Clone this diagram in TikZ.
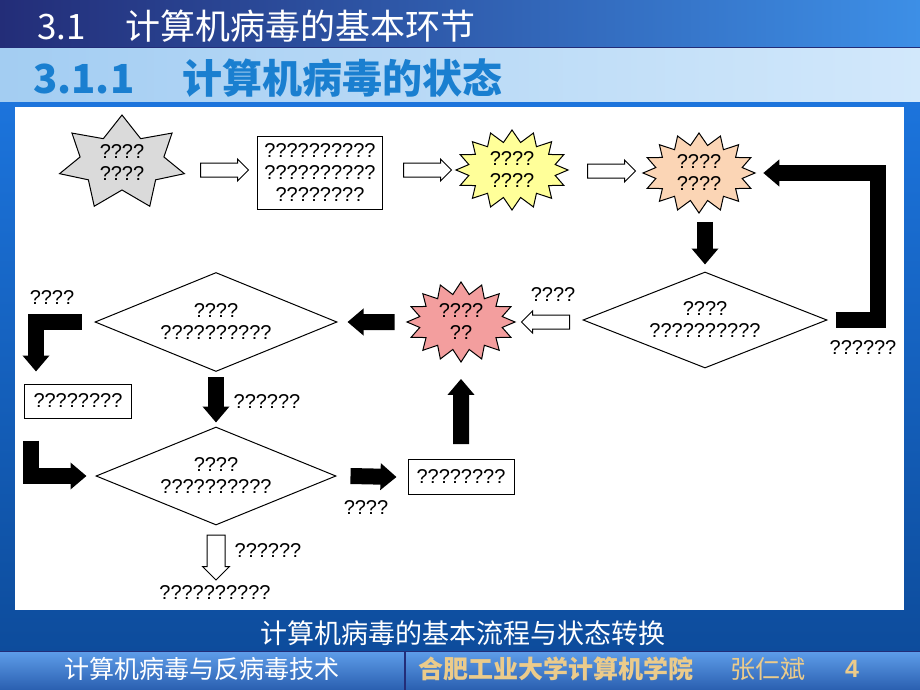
\documentclass[tikz,border=0pt]{standalone}
\usepackage{fontspec}
\setmainfont{Liberation Sans}
\newfontfamily\cjk{Noto Sans CJK SC}
\usetikzlibrary{arrows.meta, calc, positioning, shapes.geometric, shapes.symbols, shapes.arrows}

\definecolor{navy}{HTML}{232D78}
\definecolor{titleblue}{HTML}{3D8FE6}
\definecolor{bandleft}{HTML}{A3CDF2}
\definecolor{bandright}{HTML}{D2E8FB}
\definecolor{subblue}{HTML}{1A7FD0}
\definecolor{bgtop}{HTML}{1C74DC}
\definecolor{bgbot}{HTML}{0D4C9C}
\definecolor{foottop}{HTML}{5D9CE8}
\definecolor{footbot}{HTML}{2A5FB0}
\definecolor{gold}{HTML}{EBCB8B}
\definecolor{graystar}{HTML}{DADADA}
\definecolor{yellowburst}{HTML}{FFFF99}
\definecolor{peachburst}{HTML}{FBD5B5}
\definecolor{redburst}{HTML}{F39E9E}

\begin{document}
\begin{tikzpicture}[x=1pt, y=-1pt,
    every node/.style={font=\fontsize{20}{22}\selectfont, align=center, inner sep=0pt},
    star7/.style={starburst, starburst points=7, starburst point height=21pt,
        random starburst=0, draw, line width=1pt, fill=graystar,
        minimum width=128pt, minimum height=96pt},
    burst/.style={starburst, starburst points=16, starburst point height=12pt,
        random starburst=0, draw, line width=1pt, minimum width=112pt, minimum height=80pt},
    box/.style={rectangle, draw, line width=1pt},
    cond/.style={diamond, aspect=2.5, draw, line width=1pt},
    hollow/.style={single arrow, draw, line width=1pt, fill=white, minimum height=48pt,
        inner xsep=0pt, inner ysep=6.5pt, single arrow head extend=4pt},
    bigarrow/.style={line width=16pt, -{Triangle[length=16pt, width=26pt]}},
    title/.style={font=\cjk\fontsize{35}{35}\selectfont, text=white, anchor=west},
    foot/.style={font=\cjk\fontsize{25}{25}\selectfont}
]
\useasboundingbox (0,0) rectangle (920,690);

% slide background
\shade[top color=bgtop, bottom color=bgbot] (0,102) rectangle (920,652);
\shade[left color=navy, right color=titleblue] (0,0) rectangle (920,47);
\fill[navy] (0,47) rectangle (920,49);
\shade[left color=bandleft, right color=bandright] (0,49) rectangle (920,102);
\fill[white] (15,107) rectangle (904,610);
\shade[top color=foottop, bottom color=footbot] (0,652) rectangle (920,690);
\draw[navy, line width=1.5pt] (0,651.5) -- (920,651.5);
\draw[navy, line width=1.5pt] (405,652) -- (405,690);

% headings
\node[title] (head) at (37,26) {3.1\hspace{40pt}计算机病毒的基本环节};
\node[title, font=\cjk\bfseries\fontsize{40}{40}\selectfont, text=subblue] (subhead) at (33,78)
    {3.1.1\hspace{48pt}计算机病毒的状态};

% first row
\node[star7] (s1) at (122,163) {????\\????};
\node[box, minimum width=125pt, minimum height=73pt] (b1) at (320,173) {??????????\\??????????\\????????};
\node[burst, fill=yellowburst] (s2) at (512,170) {????\\????};
\node[burst, fill=peachburst] (s3) at (699,173) {????\\????};
\node[hollow] (h1) at (221,170) {};
\node[hollow] (h2) at (424,170) {};
\node[hollow] (h3) at (608,171) {};

% middle row
\node[cond, minimum width=244pt, minimum height=96pt] (d1) at (705,320) {????\\??????????};
\node[burst, fill=redburst, minimum width=108pt] (s4) at (461,322) {????\\??};
\node[hollow, shape border rotate=180] (h4) at (549,322) {};
\node[cond, minimum width=242pt, minimum height=99pt] (d2) at (216,322) {????\\??????????};
\node[box, minimum width=107pt, minimum height=34pt] (b2) at (78,401) {????????};

% bottom row
\node[cond, minimum width=240pt, minimum height=98pt] (d3) at (216,476) {????\\??????????};
\node[box, minimum width=106pt, minimum height=35pt] (b3) at (461,477) {????????};
\node[hollow, shape border rotate=270, minimum height=45pt, inner xsep=8.5pt, inner ysep=8.5pt,
    single arrow head extend=4.5pt] (h5) at (216,553) {};
\node (out) at (215,593) {??????????};

% black arrows
\draw[bigarrow] ([xshift=8pt]d1.east) -- ++(42,0) |- ([xshift=7pt]s3.east);
\draw[bigarrow] ($(d1.north |- s3.south)+(0,8)$) -- ([yshift=7pt]d1.north);
\draw[bigarrow] ([xshift=-11pt]s4.west) -- ([xshift=10pt]d2.east);
\draw[bigarrow] ([xshift=-13pt]d2.west) -| ([shift={(12pt,12pt)}]b2.north west);
\draw[bigarrow] ([yshift=-5pt]d2.south) -- ([yshift=4pt]d3.north);
\draw[bigarrow] ([shift={(7pt,-22pt)}]b2.south west) |- ([xshift=-9pt]d3.west);
\draw[bigarrow] ([xshift=14pt]d3.east) -- ([xshift=-11pt]b3.west);
\draw[bigarrow] ([yshift=15pt]b3.north) -- ([yshift=-16pt]s4.south);

% labels
\node (l1) at (863,348) {??????};
\node (l2) at (553,295) {????};
\node (l3) at (52,298) {????};
\node (l4) at (267,402) {??????};
\node (l5) at (366,508) {????};
\node (l6) at (268,551) {??????};

% captions
\node[foot, font=\cjk\fontsize{27}{27}\selectfont, text=white] (caption) at (463,633) {计算机病毒的基本流程与状态转换};
\node[foot, text=white] (course) at (202,669) {计算机病毒与反病毒技术};
\node[foot, font=\cjk\bfseries\fontsize{25}{25}\selectfont, text=gold, anchor=west] (school) at (418,669) {合肥工业大学计算机学院};
\node[foot, text=gold, anchor=west] (teacher) at (730,669) {张仁斌};
\node[foot, font=\bfseries\fontsize{25}{25}\selectfont, text=gold] (page) at (852,669) {4};
\end{tikzpicture}
\end{document}
